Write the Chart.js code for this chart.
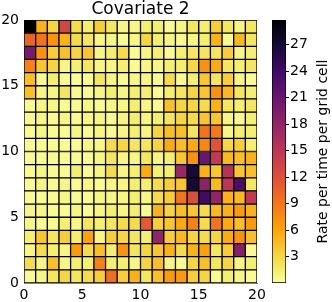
<!DOCTYPE html>
<html>
<head>
<meta charset="utf-8">
<script src="https://cdn.jsdelivr.net/npm/chart.js@4"></script>
<style>
  html, body { margin: 0; padding: 0; background: #fff; }
  #wrap { position: relative; width: 332px; height: 302px; }
  canvas { position: absolute; top: 0; }
  #heat { left: 0; }
  #cbar { left: 262px; }
</style>
</head>
<body>
<div id="wrap">
  <canvas id="heat" width="282" height="302"></canvas>
  <canvas id="cbar" width="70" height="302"></canvas>
</div>
<script>
// Rader uppifrån (y = 19) och nedåt (y = 0), 20 celler per rad
const rates = [
  [29.8, 5.2, 3.1, 13, 2.7, 1.3, 3.6, 1.9, 0.8, 0.8, 1.3, 1.3, 0.4, 0.8, 1.9, 1.3, 3.6, 1.9, 0.8, 1.9],
  [10.5, 9.3, 7.2, 5.2, 2.7, 1.9, 0.8, 0.8, 0.4, 0.8, 3.1, 1.3, 0.8, 0.4, 0.8, 1.3, 5.2, 0.4, 4.8, 1.9],
  [20, 7.2, 3.6, 4.4, 3.1, 4.0, 0.8, 1.3, 2.7, 0.4, 0.8, 1.3, 0.4, 1.3, 1.9, 1.9, 1.9, 3.6, 0.8, 1.3],
  [8.3, 4.0, 3.1, 0.8, 1.3, 1.9, 0.8, 0.8, 1.3, 0.4, 0.8, 0.8, 1.3, 1.3, 3.1, 7.2, 5.6, 1.9, 1.3, 1.9],
  [4.4, 0.4, 1.3, 0.4, 0.4, 0.4, 1.9, 0.8, 0.4, 0.8, 0.8, 0.4, 2.7, 0.4, 1.3, 4.0, 1.9, 3.6, 0.8, 0.4],
  [4.4, 0.8, 0.8, 1.9, 0.4, 0.4, 0.8, 1.3, 0.8, 1.3, 1.3, 0.4, 1.3, 1.9, 3.1, 4.0, 7.2, 4.8, 1.9, 1.3],
  [0.4, 0.8, 0.8, 0.4, 0.4, 0.8, 0.4, 0.8, 0.8, 1.3, 0.8, 0.4, 4.4, 3.1, 3.1, 2.7, 5.2, 1.9, 1.3, 1.9],
  [0.4, 0.8, 0.4, 0.8, 0.4, 0.8, 0.8, 0.4, 0.8, 1.3, 0.8, 1.3, 1.9, 3.1, 2.7, 4.0, 4.0, 0.8, 0.4, 1.3],
  [0.4, 0.8, 0.4, 0.4, 0.8, 0.4, 0.8, 0.4, 0.8, 1.3, 0.8, 3.1, 4.4, 4.4, 1.9, 9.3, 8.8, 0.8, 1.3, 1.3],
  [0.4, 0.4, 0.4, 0.4, 0.4, 0.8, 0.8, 2.7, 3.1, 1.9, 1.9, 3.1, 5.6, 4.4, 5.6, 7.8, 11.8, 3.1, 3.6, 1.3],
  [0.4, 0.4, 0.4, 0.4, 0.4, 0.4, 0.8, 1.9, 0.8, 0.8, 1.9, 0.8, 1.3, 4.0, 7.2, 21, 14.5, 4.8, 4.4, 5.2],
  [0.4, 0.8, 0.4, 0.4, 1.3, 0.4, 0.8, 2.7, 0.8, 1.3, 5.6, 1.3, 1.3, 17.5, 27, 5.2, 4.0, 15.5, 4.0, 4.4],
  [0.4, 0.8, 0.4, 0.8, 0.4, 0.8, 0.4, 0.8, 0.8, 1.3, 1.3, 2.7, 3.6, 4.0, 27, 18.5, 4.8, 15, 23, 1.9],
  [0.4, 0.4, 0.4, 0.8, 0.4, 0.4, 0.8, 0.8, 0.8, 1.3, 0.8, 2.7, 3.6, 9.3, 12.3, 24, 18, 5.2, 4.8, 14.5],
  [0.8, 0.8, 0.4, 0.4, 0.8, 0.4, 0.8, 1.3, 0.8, 1.3, 0.4, 5.2, 3.1, 4.4, 4.0, 2.7, 4.8, 5.2, 6.7, 5.2],
  [0.8, 0.4, 0.4, 1.3, 0.8, 1.9, 1.3, 1.9, 2.7, 2.7, 11.3, 3.6, 4.0, 5.6, 8.3, 2.7, 9.3, 5.6, 4.4, 6.7],
  [1.3, 4.0, 1.9, 3.6, 1.3, 6.2, 0.8, 3.6, 3.1, 1.9, 1.3, 18, 3.6, 4.8, 3.1, 2.7, 3.1, 5.6, 7.2, 4.4],
  [0.8, 2.7, 1.3, 0.8, 6.7, 2.7, 4.4, 1.3, 7.2, 1.9, 3.1, 4.0, 5.2, 2.7, 5.2, 6.2, 1.9, 3.6, 19, 0.4],
  [2.7, 0.8, 4.4, 0.8, 1.3, 1.3, 8.3, 1.3, 1.3, 0.8, 3.1, 4.4, 0.8, 0.4, 3.1, 4.4, 1.9, 3.1, 0.8, 1.3],
  [0.4, 0.8, 1.9, 3.1, 1.9, 2.7, 3.6, 9.8, 3.6, 5.2, 1.9, 4.4, 6.7, 6.7, 3.6, 3.1, 0.4, 1.3, 0.8, 0.4]
];
const xTicks = [0, 5, 10, 15, 20];
const yTicks = [0, 5, 10, 15, 20];
const cbarTicks = [3, 6, 9, 12, 15, 18, 21, 24, 27];
const vmax = 29.8;

// inferno (position, färg), används omvänd så att låga värden blir ljusgula
const infernoPos = [0, 0.1, 0.2, 0.3, 0.4, 0.5, 0.6, 0.7, 0.8, 0.9, 0.95, 1];
const infernoCol = ['#000004', '#160b39', '#420a68', '#6a176e', '#932667', '#bc3754',
                    '#dd513a', '#f37819', '#fca50a', '#f6d746', '#f3ec6a', '#fcffa4'];

function hexToRgb(h) {
  return [1, 3, 5].map(i => parseInt(h.slice(i, i + 2), 16));
}

function colorFor(v) {
  const t = 1 - Math.min(Math.max(v / vmax, 0), 1);
  let i = 0;
  while (i < infernoPos.length - 2 && t > infernoPos[i + 1]) i++;
  const f = (t - infernoPos[i]) / (infernoPos[i + 1] - infernoPos[i]);
  const a = hexToRgb(infernoCol[i]);
  const b = hexToRgb(infernoCol[i + 1]);
  const c = a.map((x, k) => Math.round(x + (b[k] - x) * f));
  return `rgb(${c[0]},${c[1]},${c[2]})`;
}

Chart.defaults.font.family = 'DejaVu Sans';
Chart.defaults.font.size = 14;
Chart.defaults.color = '#000';

const nRows = rates.length;
const cells = [];
rates.forEach((row, r) => {
  row.forEach((v, c) => {
    cells.push({ x: c + 0.5, y: [nRows - 1 - r, nRows - r], v: v });
  });
});

new Chart(document.getElementById('heat'), {
  type: 'bar',
  data: {
    datasets: [{
      data: cells,
      backgroundColor: ctx => colorFor(ctx.raw.v),
      borderColor: '#000',
      borderWidth: 1,
      borderSkipped: false,
      barPercentage: 1,
      categoryPercentage: 1
    }]
  },
  options: {
    responsive: false,
    animation: false,
    layout: { padding: { left: 0, right: 25, top: 0, bottom: 0 } },
    plugins: {
      legend: { display: false },
      tooltip: { enabled: false },
      title: {
        display: true,
        fullSize: false,
        text: 'Covariate 2',
        font: { size: 17, weight: 'normal', lineHeight: 20 / 17 },
        padding: 0,
        color: '#000'
      }
    },
    scales: {
      x: {
        type: 'linear',
        offset: false,
        min: 0,
        max: 20,
        afterBuildTicks: axis => { axis.ticks = xTicks.map(v => ({ value: v })); },
        afterFit: axis => { axis.height = 19; },
        grid: { display: false, drawTicks: true, tickLength: 4 },
        border: { display: true, color: '#808080' },
        ticks: { padding: 0, maxRotation: 0 }
      },
      y: {
        min: 0,
        max: 20,
        afterBuildTicks: axis => { axis.ticks = yTicks.map(v => ({ value: v })); },
        afterFit: axis => { axis.width = 24; },
        grid: { display: false, drawTicks: true, tickLength: 4 },
        border: { display: true, color: '#808080' },
        ticks: { padding: 1 }
      }
    }
  }
});

// Färgskalans etikett, roterad nedifrån och upp
const cbarTitle = {
  id: 'cbarTitle',
  afterDraw(chart) {
    const { ctx, chartArea } = chart;
    ctx.save();
    ctx.translate(61, (chartArea.top + chartArea.bottom) / 2);
    ctx.rotate(-Math.PI / 2);
    ctx.font = '14px "DejaVu Sans"';
    ctx.fillStyle = '#000';
    ctx.textAlign = 'center';
    ctx.textBaseline = 'middle';
    ctx.fillText('Rate per time per grid cell', 0, 0);
    ctx.restore();
  }
};

new Chart(document.getElementById('cbar'), {
  type: 'bar',
  data: {
    labels: [''],
    datasets: [{
      data: [[0, vmax]],
      backgroundColor: ctx => {
        const area = ctx.chart.chartArea;
        if (!area) return null;
        const g = ctx.chart.ctx.createLinearGradient(0, area.bottom, 0, area.top);
        infernoPos.forEach((p, i) => g.addColorStop(1 - p, infernoCol[i]));
        return g;
      },
      borderColor: '#000',
      borderWidth: 1,
      borderSkipped: false,
      barPercentage: 1,
      categoryPercentage: 1
    }]
  },
  options: {
    responsive: false,
    animation: false,
    layout: { padding: { left: 10, right: 0, top: 20, bottom: 19 } },
    plugins: {
      legend: { display: false },
      tooltip: { enabled: false }
    },
    scales: {
      x: { display: false },
      y: {
        position: 'right',
        min: 0,
        max: vmax,
        afterBuildTicks: axis => { axis.ticks = cbarTicks.map(v => ({ value: v })); },
        afterFit: axis => { axis.width = 46; },
        grid: { display: true, drawOnChartArea: false, drawTicks: true, tickLength: 3, color: '#000' },
        border: { display: false },
        ticks: { padding: 1 }
      }
    }
  },
  plugins: [cbarTitle]
});
</script>
</body>
</html>
